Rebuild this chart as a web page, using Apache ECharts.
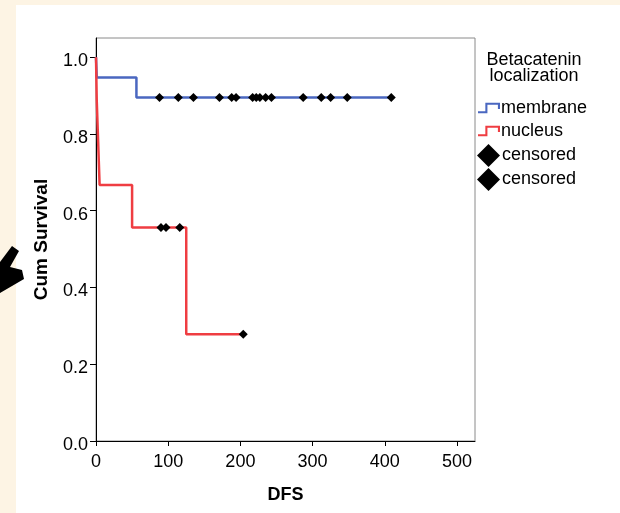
<!DOCTYPE html>
<html>
<head>
<meta charset="utf-8">
<script src="https://cdn.jsdelivr.net/npm/echarts@6/dist/echarts.min.js"></script>
<style>
  html, body { margin: 0; padding: 0; background: #fdf4e4; }
  #main { width: 620px; height: 513px; }
</style>
</head>
<body>
<div id="main"></div>
<script>
// 坐标轴刻度
var xTicks = [0, 100, 200, 300, 400, 500]
var yTicks = [0, 0.2, 0.4, 0.6, 0.8, 1.0]

// membrane 生存曲线 (时间, 累计生存率)
var membraneTime = [0, 1, 56, 409]
var membraneSurv = [1, 0.947, 0.895, 0.895]
// nucleus 生存曲线
var nucleusTime = [0, 1, 3, 5, 50, 125, 204]
var nucleusSurv = [1, 0.889, 0.778, 0.667, 0.556, 0.278, 0.278]

// 删失点
var membraneCensorTime = [88, 114, 135, 171, 188, 194, 217, 222, 227, 235, 243, 287, 312, 325, 348, 409]
var membraneCensorSurv = [0.895, 0.895, 0.895, 0.895, 0.895, 0.895, 0.895, 0.895, 0.895, 0.895, 0.895, 0.895, 0.895, 0.895, 0.895, 0.895]
var nucleusCensorTime = [90, 97, 116, 204]
var nucleusCensorSurv = [0.556, 0.556, 0.556, 0.278]

function pairs(xs, ys) {
    return xs.map(function (x, i) { return [x, ys[i]] })
}

var font = 'Liberation Sans, Arial, sans-serif'
var blue = '#4a67c0'
var red = '#ef3d42'
// 阶梯图例图标
var stepIcon = 'path://M0,8 L7,8 L7,0 L21,0 L21,6 L19,6 L19,2 L9,2 L9,10 L0,10 Z'

var myChart = echarts.init(document.getElementById('main'))
var option = {
    animation: false,
    backgroundColor: '#fdf4e4',
    graphic: [
        {
            type: 'rect',
            z: -10,
            shape: { x: 16, y: 5, width: 610, height: 520 },
            style: { fill: '#ffffff' }
        },
        {
            // 左侧的黑色箭头
            type: 'polygon',
            shape: { points: [[12, 246], [19, 251], [10, 267], [22, 270], [24, 279], [0, 293], [0, 262]] },
            style: { fill: '#000' }
        }
    ],
    title: {
        text: 'Betacatenin\nlocalization',
        left: 529,
        top: 47,
        textAlign: 'center',
        textStyle: { fontFamily: font, fontSize: 18, fontWeight: 'normal', color: '#000', lineHeight: 16 }
    },
    legend: [
        {
            orient: 'vertical',
            left: 478,
            top: 99,
            padding: 0,
            itemGap: 5,
            itemWidth: 22,
            itemHeight: 12,
            icon: stepIcon,
            itemStyle: { borderWidth: 0 },
            textStyle: { fontFamily: font, fontSize: 18, color: '#000', lineHeight: 18, padding: [0, 0, 0, -4] },
            data: ['membrane', 'nucleus']
        },
        {
            orient: 'vertical',
            left: 477,
            top: 144,
            padding: 0,
            itemGap: 1,
            itemWidth: 23,
            itemHeight: 23,
            icon: 'diamond',
            itemStyle: { borderWidth: 0, opacity: 1, color: '#000' },
            textStyle: { fontFamily: font, fontSize: 18, color: '#000', lineHeight: 18, padding: [0, 0, 0, -3] },
            formatter: function (name) { return name.trim() },
            data: ['censored', 'censored ']
        }
    ],
    grid: {
        left: 96,
        top: 38,
        width: 379,
        height: 403,
        show: true,
        borderColor: '#8a8a8a',
        borderWidth: 1,
        backgroundColor: 'transparent'
    },
    xAxis: {
        type: 'value',
        min: 0,
        max: 525,
        name: 'DFS',
        nameLocation: 'middle',
        nameGap: 45,
        nameTextStyle: { fontFamily: font, fontSize: 18, fontWeight: 'bold', color: '#000' },
        splitLine: { show: false },
        axisLine: { show: true, lineStyle: { color: '#000', width: 1 } },
        axisTick: { show: true, length: 5, lineStyle: { color: '#000' }, customValues: xTicks },
        axisLabel: { fontFamily: font, fontSize: 18, color: '#000', margin: 12, customValues: xTicks }
    },
    yAxis: {
        type: 'value',
        min: 0,
        max: 1.05,
        name: 'Cum Survival',
        nameLocation: 'middle',
        nameGap: 45,
        nameTextStyle: { fontFamily: font, fontSize: 19, fontWeight: 'bold', color: '#000' },
        splitLine: { show: false },
        axisLine: { show: true, lineStyle: { color: '#000', width: 1 } },
        axisTick: { show: true, length: 6, lineStyle: { color: '#000' }, customValues: yTicks },
        axisLabel: {
            fontFamily: font, fontSize: 18, color: '#000', margin: 8,
            verticalAlign: 'top',
            lineHeight: 8,
            customValues: yTicks,
            formatter: function (v) { return v.toFixed(1) }
        }
    },
    series: [
        {
            name: 'membrane',
            type: 'line',
            step: 'end',
            showSymbol: false,
            color: blue,
            lineStyle: { color: blue, width: 2.5 },
            data: pairs(membraneTime, membraneSurv)
        },
        {
            name: 'nucleus',
            type: 'line',
            step: 'end',
            showSymbol: false,
            color: red,
            lineStyle: { color: red, width: 2.5 },
            data: pairs(nucleusTime, nucleusSurv)
        },
        {
            name: 'censored',
            type: 'scatter',
            symbol: 'diamond',
            symbolSize: 9,
            itemStyle: { color: '#000', opacity: 1 },
            z: 5,
            data: pairs(membraneCensorTime, membraneCensorSurv)
        },
        {
            name: 'censored ',
            type: 'scatter',
            symbol: 'diamond',
            symbolSize: 9,
            itemStyle: { color: '#000', opacity: 1 },
            z: 5,
            data: pairs(nucleusCensorTime, nucleusCensorSurv)
        }
    ]
}
myChart.setOption(option)
</script>
</body>
</html>
